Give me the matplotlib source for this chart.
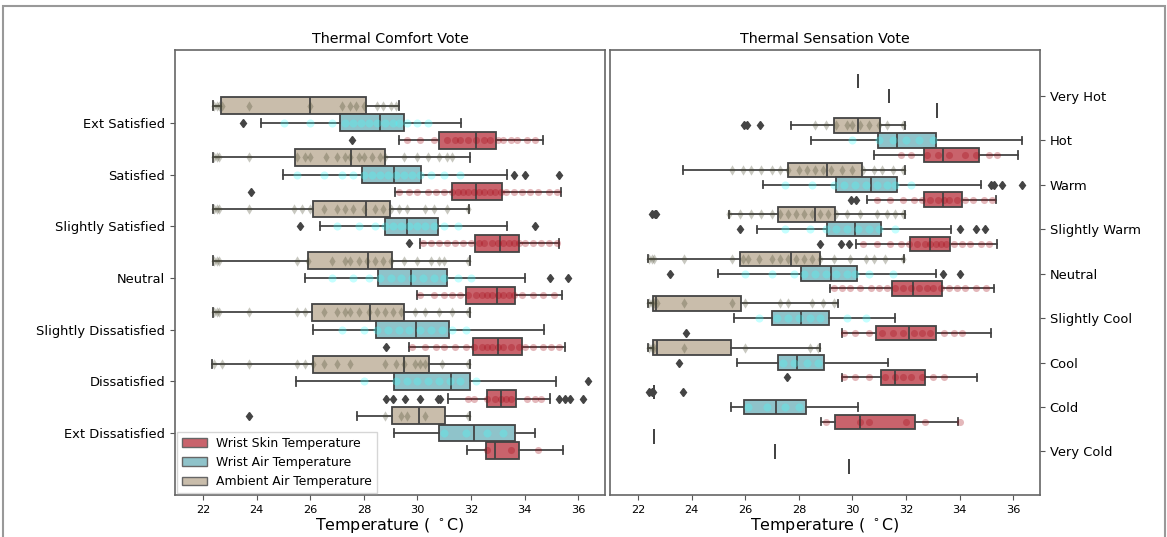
import matplotlib
matplotlib.use('Agg')
import matplotlib.pyplot as plt
from matplotlib.patches import Patch, Rectangle

comfort_labels = ['Ext Satisfied', 'Satisfied', 'Slightly Satisfied', 'Neutral',
                  'Slightly Dissatisfied', 'Dissatisfied', 'Ext Dissatisfied']
sensation_labels = ['Very Hot', 'Hot', 'Warm', 'Slightly Warm', 'Neutral',
                    'Slightly Cool', 'Cool', 'Cold', 'Very Cold']

# box stats per category: [whislo, q1, median, q3, whishi]
comfort_ambient_stats = [[22.35, 22.65, 25.98, 28.07, 29.31],
                         [22.37, 25.44, 27.52, 28.79, 31.95],
                         [22.37, 26.10, 28.09, 28.96, 31.92],
                         [22.37, 25.91, 28.17, 29.05, 31.95],
                         [22.37, 26.08, 28.24, 29.50, 31.97],
                         [22.34, 26.10, 29.48, 30.42, 31.95],
                         [27.75, 29.06, 30.06, 31.02, 31.97]]
comfort_ambient_fliers = [[], [], [], [], [], [], [23.70]]
comfort_ambient_strip = [
    [22.4, 22.5, 22.6, 22.7, 23.7, 26.0, 27.2, 27.5, 27.7, 28.0, 28.5, 28.7, 29.0, 29.2],
    [22.4, 22.5, 22.6, 23.7, 25.5, 25.8, 26.0, 26.6, 27.0, 27.3, 27.5, 27.8, 28.0, 28.3, 28.6,
     28.8, 29.5, 30.0, 30.4, 30.8, 31.1, 31.3],
    [22.4, 22.5, 22.6, 23.7, 25.4, 25.7, 26.0, 26.5, 27.0, 27.3, 27.6, 28.0, 28.4, 28.7, 29.0,
     29.3, 29.6, 30.3, 30.6, 31.1, 31.9],
    [22.4, 22.5, 22.6, 25.5, 25.9, 26.8, 27.3, 27.5, 27.8, 28.1, 28.4, 28.7, 29.0, 29.5, 30.0,
     30.5, 30.8, 31.0, 31.9],
    [22.4, 22.5, 22.6, 23.7, 25.5, 25.8, 26.5, 27.0, 27.3, 27.5, 27.8, 28.2, 28.5, 28.8, 29.1,
     29.4, 29.9, 30.3, 30.8, 31.3, 31.9],
    [22.4, 22.7, 23.7, 25.5, 25.8, 26.1, 26.5, 27.0, 27.5, 28.8, 29.2, 29.5, 29.9, 30.1, 30.3,
     30.9, 31.9],
    [28.8, 29.4, 29.6, 30.3, 31.9]]

comfort_air_stats = [[24.15, 27.10, 28.62, 29.49, 31.64],
                     [24.98, 27.92, 29.11, 30.14, 33.35],
                     [26.35, 28.78, 29.61, 30.77, 33.35],
                     [25.79, 28.52, 29.77, 31.10, 34.03],
                     [26.10, 28.44, 29.96, 31.18, 34.72],
                     [25.48, 29.11, 31.27, 31.95, 35.18],
                     [29.11, 30.79, 32.11, 33.65, 34.40]]
comfort_air_fliers = [[23.49], [33.60, 34.03, 35.28], [25.63, 34.37], [34.96, 35.62],
                      [], [36.36], []]
comfort_air_strip = [
    [25.0, 26.0, 26.8, 27.3, 27.6, 27.9, 28.2, 28.5, 28.8, 29.1, 29.3, 29.6, 30.0, 30.4],
    [25.5, 26.5, 27.2, 27.6, 28.0, 28.3, 28.6, 28.9, 29.2, 29.5, 29.8, 30.1, 30.5, 31.0, 31.6],
    [27.0, 27.8, 28.4, 28.8, 29.1, 29.4, 29.7, 30.0, 30.3, 30.6, 31.0, 31.5],
    [26.8, 27.6, 28.2, 28.6, 29.0, 29.4, 29.8, 30.2, 30.6, 31.0, 31.5, 32.0],
    [27.2, 28.0, 28.5, 28.9, 29.3, 29.7, 30.1, 30.5, 30.9, 31.3, 31.8],
    [28.0, 29.2, 29.6, 30.0, 30.4, 30.8, 31.2, 31.6, 32.2],
    [31.0, 31.8, 32.6, 33.2]]

comfort_skin_stats = [[29.31, 30.80, 32.17, 32.92, 34.68],
                      [29.16, 31.28, 32.17, 33.16, 35.37],
                      [30.08, 32.16, 33.07, 33.78, 35.28],
                      [29.98, 31.82, 32.98, 33.65, 35.40],
                      [29.67, 32.07, 33.00, 33.90, 35.52],
                      [31.14, 32.59, 33.13, 33.69, 34.96],
                      [31.86, 32.57, 32.90, 33.78, 35.45]]
comfort_skin_fliers = [[27.56], [23.78], [29.67], [], [28.82],
                       [28.82, 29.09, 29.52, 30.08, 30.77, 30.83, 35.30, 35.50, 35.70, 36.18], []]
comfort_skin_strip = [
    [29.6, 30.1, 30.6, 31.1, 31.4, 31.6, 31.9, 32.2, 32.5, 32.7, 33.0, 33.2, 33.5, 33.7, 34.1, 34.4],
    [29.3, 29.7, 30.0, 30.4, 30.7, 31.0, 31.3, 31.5, 31.7, 31.9, 32.1, 32.3, 32.5, 32.7, 32.9,
     33.1, 33.3, 33.6, 33.9, 34.2, 34.5, 34.9, 35.2],
    [30.2, 30.5, 30.8, 31.1, 31.4, 31.7, 32.0, 32.3, 32.5, 32.8, 33.0, 33.2, 33.4, 33.6, 33.8,
     34.0, 34.3, 34.6, 34.9, 35.2],
    [30.1, 30.6, 31.0, 31.3, 31.6, 31.9, 32.2, 32.4, 32.6, 32.8, 33.0, 33.2, 33.4, 33.6, 33.9,
     34.3, 34.7, 35.1],
    [29.8, 30.3, 30.7, 31.0, 31.4, 31.8, 32.1, 32.4, 32.6, 32.8, 33.0, 33.2, 33.5, 33.8, 34.0,
     34.3, 34.7, 35.0, 35.3],
    [31.9, 32.1, 32.6, 32.9, 33.1, 33.3, 33.5, 34.1, 34.4, 34.6],
    [32.6, 33.5, 34.5]]

sensation_ambient_stats = [[30.21, 30.21, 30.21, 30.21, 30.21],
                           [27.72, 29.30, 30.21, 31.02, 31.95],
                           [23.68, 27.60, 29.06, 30.36, 31.95],
                           [25.38, 27.22, 28.59, 29.36, 31.95],
                           [22.37, 25.82, 27.72, 28.78, 31.92],
                           [22.35, 22.56, 22.65, 25.83, 29.46],
                           [22.35, 22.56, 22.70, 25.48, 28.77],
                           [22.60, 22.60, 22.60, 22.60, 22.60],
                           [22.60, 22.60, 22.60, 22.60, 22.60]]
sensation_ambient_fliers = [[], [25.96, 26.08, 26.56], [], [22.50, 22.62, 22.68], [], [], [],
                            [22.42, 22.50, 22.55, 23.68], []]
sensation_ambient_strip = [
    [],
    [28.6, 29.0, 29.4, 29.8, 30.0, 30.3, 30.6, 31.0, 31.3, 31.9],
    [25.5, 25.9, 26.2, 26.6, 27.0, 27.3, 27.6, 28.0, 28.3, 28.6, 28.9, 29.2, 29.6, 30.0, 30.4,
     30.8, 31.1, 31.5, 31.9],
    [25.4, 25.8, 26.2, 26.6, 27.0, 27.3, 27.6, 27.9, 28.2, 28.5, 28.8, 29.1, 29.4, 29.8, 30.3,
     30.9, 31.3, 31.6, 31.9],
    [22.4, 22.5, 22.6, 23.7, 25.5, 25.9, 26.1, 26.5, 27.0, 27.3, 27.6, 27.9, 28.2, 28.5, 28.8,
     29.3, 29.9, 30.5, 30.8, 31.2, 31.9],
    [22.4, 22.5, 22.6, 22.7, 23.7, 25.5, 26.0, 27.3, 27.6, 28.5, 28.9, 29.3],
    [22.4, 22.5, 22.6, 23.7, 26.0, 28.4, 28.7],
    [],
    []]

sensation_air_stats = [[31.35, 31.35, 31.35, 31.35, 31.35],
                       [28.44, 30.96, 31.66, 33.11, 36.34],
                       [26.66, 29.40, 30.71, 31.68, 34.81],
                       [26.45, 29.06, 30.08, 31.08, 33.69],
                       [24.98, 28.07, 29.20, 30.17, 33.13],
                       [25.58, 26.98, 28.09, 29.11, 31.58],
                       [25.69, 27.22, 27.93, 28.94, 31.33],
                       [25.48, 25.94, 27.16, 28.28, 30.21],
                       [27.10, 27.10, 27.10, 27.10, 27.10]]
sensation_air_fliers = [[], [], [35.18, 35.28, 35.58, 36.33], [25.82, 34.00, 34.62, 34.96],
                        [23.18, 33.38, 34.00], [], [23.53], [], []]
sensation_air_strip = [
    [],
    [30.0, 31.0, 31.5, 32.0, 32.5, 33.0],
    [27.5, 28.5, 29.3, 29.7, 30.1, 30.5, 30.9, 31.3, 31.6, 32.2],
    [27.5, 28.4, 29.0, 29.4, 29.8, 30.2, 30.6, 31.0, 31.6],
    [26.0, 27.0, 27.8, 28.2, 28.6, 29.0, 29.4, 29.8, 30.1, 30.6, 31.5],
    [26.5, 27.2, 27.6, 28.0, 28.4, 28.8, 29.8, 30.5],
    [27.4, 27.8, 28.3, 28.7],
    [26.1, 26.8, 27.5, 28.0],
    []]

sensation_skin_stats = [[33.17, 33.17, 33.17, 33.17, 33.17],
                        [30.79, 32.66, 33.38, 34.71, 36.18],
                        [30.56, 32.66, 33.38, 34.10, 35.37],
                        [30.15, 32.16, 32.88, 33.65, 35.40],
                        [29.15, 31.49, 32.26, 33.35, 35.28],
                        [29.62, 30.86, 32.11, 33.11, 35.18],
                        [29.62, 31.05, 31.58, 32.70, 34.65],
                        [28.82, 29.34, 30.30, 32.35, 33.94],
                        [29.86, 29.86, 29.86, 29.86, 29.86]]
sensation_skin_fliers = [[], [], [29.96, 30.15], [28.80, 29.56, 29.86], [], [23.78], [27.56], [], []]
sensation_skin_strip = [
    [],
    [31.8, 32.2, 32.8, 33.2, 33.6, 34.2, 34.6, 35.1, 35.4],
    [30.9, 31.4, 31.9, 32.3, 32.6, 32.9, 33.2, 33.4, 33.6, 33.9, 34.2, 34.5, 34.9, 35.2],
    [30.4, 30.9, 31.4, 31.8, 32.1, 32.4, 32.7, 32.9, 33.1, 33.3, 33.5, 33.8, 34.1, 34.4, 34.8, 35.1],
    [29.3, 29.6, 29.9, 30.3, 30.7, 31.0, 31.3, 31.6, 31.9, 32.2, 32.5, 32.8, 33.0, 33.3, 33.6,
     33.9, 34.2, 34.6, 35.0],
    [29.7, 30.1, 30.6, 31.1, 31.5, 31.9, 32.3, 32.6, 32.9, 33.4, 33.8, 34.1],
    [29.7, 30.1, 30.6, 31.2, 31.6, 31.9, 32.2, 32.6, 33.0, 33.4],
    [29.0, 30.3, 30.6, 32.0, 32.7, 34.0],
    []]

series_names = ['Wrist Skin Temperature', 'Wrist Air Temperature', 'Ambient Air Temperature']
box_colors = {'ambient': '#c9bdab', 'air': '#8fc3ca', 'skin': '#c9636c'}
strip_colors = {'ambient': '#4a4a30', 'air': '#40ffff', 'skin': '#a0000e'}
strip_alpha = {'ambient': 0.3, 'air': 0.3, 'skin': 0.28}
strip_marker = {'ambient': 'd', 'air': 'o', 'skin': 'o'}
strip_size = {'ambient': 28, 'air': 34, 'skin': 26}
offsets = {'ambient': -1 / 3, 'air': 0.0, 'skin': 1 / 3}
edge = '#444444'


def draw_group(ax, key, stats, fliers, strip):
    n = len(stats)
    pos = [i + offsets[key] for i in range(n)]
    bx = []
    for s, f in zip(stats, fliers):
        bx.append({'whislo': s[0], 'q1': s[1], 'med': s[2], 'q3': s[3], 'whishi': s[4],
                   'fliers': f})
    ax.bxp(bx, positions=pos, widths=0.327, orientation='horizontal', patch_artist=True,
           manage_ticks=False,
           boxprops=dict(facecolor=box_colors[key], edgecolor=edge, linewidth=1.3),
           whiskerprops=dict(color=edge, linewidth=1.3),
           capprops=dict(color=edge, linewidth=1.3),
           medianprops=dict(color=edge, linewidth=1.3),
           flierprops=dict(marker='d', markerfacecolor=edge, markeredgecolor=edge,
                           markersize=4.5))
    for p, vals in zip(pos, strip):
        if vals:
            ax.scatter(vals, [p] * len(vals), s=strip_size[key], marker=strip_marker[key],
                       color=strip_colors[key], alpha=strip_alpha[key], linewidths=0, zorder=3)


def style_panel(ax, labels, title, ylim, right=False):
    ax.set_xlim(20.95, 37.0)
    ax.set_ylim(*ylim)
    ax.set_xticks(range(22, 37, 2))
    ax.set_yticks(range(len(labels)))
    ax.set_yticklabels(labels, fontsize=9.4)
    for lab in ax.get_xticklabels():
        lab.set_fontsize(8.2)
        lab.set_family(['Liberation Sans Narrow', 'DejaVu Sans'])
    ax.set_xlabel('Temperature ( $^\\circ$C)', fontsize=11.4, labelpad=1)
    ax.set_title(title, fontsize=10.3, pad=5)
    ax.tick_params(length=3.5, color='#555555')
    if right:
        ax.yaxis.tick_right()
    for sp in ax.spines.values():
        sp.set_color('#666666')
        sp.set_linewidth(1.2)


fig = plt.figure(figsize=(11.67, 5.37), dpi=100)
ax1 = fig.add_axes([175 / 1167, 1 - 495 / 537, 430 / 1167, 445 / 537])
ax2 = fig.add_axes([610 / 1167, 1 - 495 / 537, 430 / 1167, 445 / 537])

draw_group(ax1, 'ambient', comfort_ambient_stats, comfort_ambient_fliers, comfort_ambient_strip)
draw_group(ax1, 'air', comfort_air_stats, comfort_air_fliers, comfort_air_strip)
draw_group(ax1, 'skin', comfort_skin_stats, comfort_skin_fliers, comfort_skin_strip)
draw_group(ax2, 'ambient', sensation_ambient_stats, sensation_ambient_fliers, sensation_ambient_strip)
draw_group(ax2, 'air', sensation_air_stats, sensation_air_fliers, sensation_air_strip)
draw_group(ax2, 'skin', sensation_skin_stats, sensation_skin_fliers, sensation_skin_strip)

style_panel(ax1, comfort_labels, 'Thermal Comfort Vote', (7.2, -1.41))
style_panel(ax2, sensation_labels, 'Thermal Sensation Vote', (8.98, -1.03), right=True)

handles = [Patch(facecolor=box_colors[k], edgecolor='#666666') for k in ['skin', 'air', 'ambient']]
ax1.legend(handles, series_names, loc='lower left', fontsize=8.9, frameon=True,
           borderaxespad=0.15, handlelength=2.0, edgecolor='#cccccc', fancybox=False)

# thin grey frame of the original screenshot
fig.patches.append(Rectangle((3 / 1167, -0.02), 1162 / 1167, 1 - 6 / 537 + 0.02,
                             transform=fig.transFigure, fill=False, edgecolor='#999999',
                             linewidth=1.5))

fig.savefig('out.png', dpi=100)
